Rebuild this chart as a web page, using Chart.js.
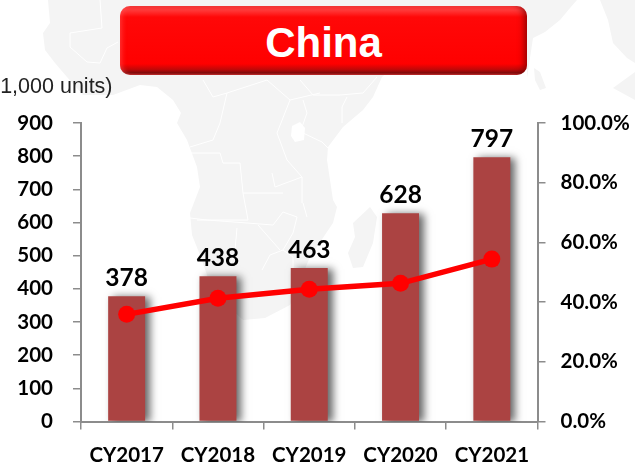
<!DOCTYPE html>
<html>
<head>
<meta charset="utf-8">
<title>China</title>
<script src="https://cdn.jsdelivr.net/npm/chart.js@4"></script>
<style>
    html, body { margin: 0; padding: 0; background: #fff; overflow: hidden; }
    #wrap { position: relative; width: 635px; height: 469px; overflow: hidden; }
    #myChart { position: absolute; left: 0; top: 0; }
    #banner {
        position: absolute; left: 120px; top: 6px; width: 407px; height: 69px;
        box-sizing: border-box; border-radius: 10px;
        background: linear-gradient(#ff3a3a 0, #ff3a3a 6%, #ff0808 16%, #ff0000 84%, #c00808 92%, #7e0d0d 97%, #c83030 100%);
        box-shadow: inset 5px 0 5px -3px rgba(255,90,90,.55), inset -6px 0 6px -3px rgba(120,0,0,.75);
        color: #fff; text-align: center;
        font: bold 42px/74px "Liberation Sans", Arial, sans-serif;
    }
    #unit {
        position: absolute; left: -7px; top: 72px; white-space: nowrap; color: #222;
        font: 21.5px/28px "Liberation Sans", Arial, sans-serif;
    }
</style>
</head>
<body>
<div id="wrap">
    <canvas id="myChart" width="635" height="469"></canvas>
    <div id="banner">China</div>
    <div id="unit">(1,000 units)</div>
</div>
<script>
const categories = ["CY2017", "CY2018", "CY2019", "CY2020", "CY2021"];
const units = [378, 438, 463, 628, 797];
const share = [35.9, 41.3, 44.3, 46.3, 54.4];

// background land shapes, page pixels
const land = [
    [[48,0],[50,23],[43,33],[45,50],[55,63],[67,77],[83,95],[113,95],[140,85],[157,87],[173,100],[181,113],[177,123],[187,140],[197,167],[200,187],[190,213],[192,235],[200,255],[208,278],[230,308],[243,320],[265,318],[290,305],[310,257],[333,223],[337,207],[333,200],[330,180],[327,160],[328,147],[343,127],[363,110],[373,97],[382,77],[400,60],[527,60],[527,78],[533,38],[545,32],[560,20],[570,8],[577,0]],
    [[600,0],[635,0],[635,63],[627,58],[613,43],[608,20]],
    [[613,88],[635,72],[635,100]],
    [[534,68],[540,72],[546,88],[540,90],[535,80]],
    [[353,223],[370,207],[377,217],[373,243],[363,267],[353,268],[348,253],[355,237]]
];
const borders = [
    [[100,0],[102,28],[70,33],[70,47],[87,62],[100,63],[107,48],[118,42]],
    [[203,80],[213,97],[227,93],[267,80],[290,100],[320,93]],
    [[227,93],[220,123],[213,140],[190,147]],
    [[190,153],[220,153],[223,163],[240,163],[243,193],[283,193]],
    [[290,100],[277,133],[287,160],[302,177],[302,203]],
    [[243,193],[248,220],[197,220]],
    [[272,173],[275,187],[302,177]],
    [[300,80],[313,95],[340,95],[363,93],[377,77]],
    [[347,97],[342,107],[342,123]],
    [[303,100],[307,113],[302,127]],
    [[303,133],[322,142],[328,148]],
    [[190,218],[207,220],[247,223],[273,225],[283,212],[297,217],[293,233],[283,250],[270,255],[262,270]],
    [[237,228],[235,250],[230,267]],
    [[258,225],[280,250]],
    [[283,250],[293,257],[293,300]],
    [[307,217],[303,203]]
];
const lake = [[292,126],[300,122],[305,128],[304,140],[295,142],[291,136]];

function tracePath(ctx, pts) {
    ctx.beginPath();
    pts.forEach((p, i) => i ? ctx.lineTo(p[0], p[1]) : ctx.moveTo(p[0], p[1]));
}

// map behind everything
const mapBackground = {
    id: "mapBackground",
    beforeDraw(chart) {
        const ctx = chart.ctx;
        ctx.save();
        ctx.fillStyle = "#f4f4f4";
        land.forEach(shape => { tracePath(ctx, shape); ctx.fill(); });
        ctx.strokeStyle = "#ffffff";
        ctx.lineWidth = 1;
        borders.forEach(line => { tracePath(ctx, line); ctx.stroke(); });
        ctx.fillStyle = "#ffffff";
        tracePath(ctx, lake);
        ctx.fill();
        ctx.restore();
    }
};

// soft drop shadow on the bars only
const barShadow = {
    id: "barShadow",
    beforeDatasetDraw(chart, args) {
        if (args.meta.type !== "bar") return;
        const ctx = chart.ctx;
        ctx.save();
        ctx.shadowColor = "rgba(0,0,0,0.6)";
        ctx.shadowBlur = 8;
        ctx.shadowOffsetX = 5;
        ctx.shadowOffsetY = 1;
    },
    afterDatasetDraw(chart, args) {
        if (args.meta.type === "bar") chart.ctx.restore();
    }
};

// value labels above the bars
const barLabels = {
    id: "barLabels",
    afterDatasetsDraw(chart) {
        const ctx = chart.ctx;
        const meta = chart.getDatasetMeta(0);
        ctx.save();
        ctx.fillStyle = "#000";
        ctx.font = 'bold 24.5px Lato, sans-serif';
        ctx.textAlign = "center";
        ctx.textBaseline = "middle";
        meta.data.forEach((bar, i) => ctx.fillText(units[i], bar.x, bar.y - 18));
        ctx.restore();
    }
};

const tickFont = { family: 'Lato, sans-serif', weight: "bold", size: 20.5 };
const axisGrey = "#8c8c8c";

new Chart(document.getElementById("myChart").getContext("2d"), {
    data: {
        labels: categories,
        datasets: [
            {
                type: "bar",
                data: units,
                yAxisID: "y",
                order: 2,
                backgroundColor: "#ab4342",
                borderWidth: 0,
                categoryPercentage: 1,
                barPercentage: 0.405
            },
            {
                type: "line",
                data: share,
                yAxisID: "y1",
                order: 1,
                borderColor: "#ff0000",
                borderWidth: 5.5,
                pointRadius: 8.5,
                pointBackgroundColor: "#ff0000",
                pointBorderColor: "#ff0000",
                pointBorderWidth: 0,
                tension: 0
            }
        ]
    },
    options: {
        responsive: false,
        animation: false,
        layout: { padding: { top: 123, left: 0, right: 0, bottom: 0 } },
        plugins: { legend: { display: false }, title: { display: false }, tooltip: { enabled: false } },
        scales: {
            x: {
                afterFit(scale) { scale.height = 47.5; },
                border: { color: axisGrey, width: 2 },
                grid: { color: axisGrey, lineWidth: 1.5, drawOnChartArea: false, tickLength: 8 },
                ticks: { color: "#000", font: tickFont, padding: 14, maxRotation: 0, autoSkip: false }
            },
            y: {
                position: "left",
                min: 0,
                max: 900,
                afterFit(scale) { scale.width = 81; },
                border: { color: axisGrey, width: 2 },
                grid: { color: axisGrey, lineWidth: 1.5, drawOnChartArea: false, tickLength: 8 },
                ticks: { stepSize: 100, color: "#000", font: tickFont, padding: 20 }
            },
            y1: {
                position: "right",
                min: 0,
                max: 100,
                afterFit(scale) { scale.width = 97.5; },
                border: { color: axisGrey, width: 2 },
                grid: { color: axisGrey, lineWidth: 1.5, drawOnChartArea: false, tickLength: 8 },
                ticks: { stepSize: 20, color: "#000", font: tickFont, padding: 15, callback: v => v.toFixed(1) + "%" }
            }
        }
    },
    plugins: [mapBackground, barShadow, barLabels]
});
</script>
</body>
</html>
